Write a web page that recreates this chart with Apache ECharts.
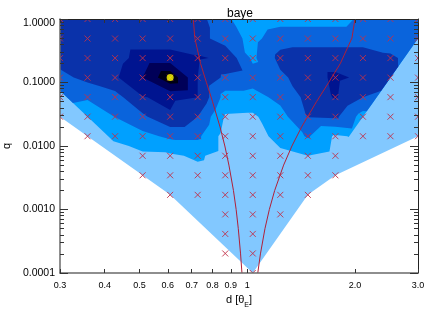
<!DOCTYPE html>
<html><head><meta charset="utf-8">
<script src="https://cdn.jsdelivr.net/npm/echarts@6/dist/echarts.min.js"></script>
<style>html,body{margin:0;padding:0;background:#fff}#c{width:436px;height:312px}</style>
</head><body><div id="c"></div>
<script>
// sample grid (d in theta_E, q)
const gridD = [0.3000,0.3581,0.4275,0.5104,0.6093,0.7273,0.8683,1.0365,1.2374,1.4772,1.7634,2.1051,2.5130,3.0000];
const gridQ = [1.0000,0.4924,0.2424,0.1194,0.05878,0.02894,0.01425,0.007017,0.003455,0.001701,0.0008377,0.0004125,0.0002031,0.0001000];
// contour value at each sample (rows = gridQ, cols = gridD)
const zRow0  = [3.5,3.5,3.5,3.5,3.5,3.4,2.2,1.3,1.6,1.6,1.6,2.2,2.4,2.4];
const zRow1  = [3.5,3.5,3.5,3.5,3.5,3.4,2.5,1.7,2.6,2.6,2.6,2.6,2.5,2.4];
const zRow2  = [3.4,3.5,3.6,4.4,4.4,4.1,3.85,1.8,3.3,3.5,3.5,3.5,3.15,2.6];
const zRow3  = [2.7,3.3,3.85,5.0,6.8,4.0,2.8,2.5,2.8,3.5,4.2,3.8,3.2,2.6];
const zRow4  = [2.3,2.1,2.6,3.95,4.23,4.0,1.6,1.6,2.3,3.25,4.1,3.0,2.6,2.3];
const zRow5  = [1.4,1.4,2.02,2.8,3.88,3.0,0.9,0.85,1.6,3.05,3.2,1.6,1.7,1.7];
const zRow6  = [1.0,0.8,1.2,1.7,2.2,2.2,0.6,0.6,1.3,2.1,0.85,1.2,1.05,0.9];
const zRow7  = [0.8,0.6,0.5,0.8,0.85,1.15,0.6,0.6,0.8,1.0,0.7,0.7,0.6,0.6];
const zRow8  = [0.5,0.5,0.5,0.6,0.6,0.65,0.5,0.5,0.5,0.5,0.5,0.5,0.5,0.5];
const zRow9  = [0.5,0.5,0.5,0.5,0.5,0.5,0.5,0.5,0.5,0.5,0.5,0.5,0.5,0.5];
const zRow10 = [0.5,0.5,0.5,0.5,0.5,0.5,0.5,0.5,0.5,0.5,0.5,0.5,0.5,0.5];
const zRow11 = [0.5,0.5,0.5,0.5,0.5,0.5,0.5,0.5,0.5,0.5,0.5,0.5,0.5,0.5];
const zRow12 = [0.5,0.5,0.5,0.5,0.5,0.5,0.5,0.5,0.5,0.5,0.5,0.5,0.5,0.5];
const zRow13 = [0.5,0.5,0.5,0.5,0.5,0.5,0.5,0.5,0.5,0.5,0.5,0.5,0.5,0.5];
const zRows = [zRow0,zRow1,zRow2,zRow3,zRow4,zRow5,zRow6,zRow7,zRow8,zRow9,zRow10,zRow11,zRow12,zRow13];
// sampled points (x markers): first and last column index for each row
const markerFirst = [0,0,0,0,0,0,1,3,3,4,6,6,6,7];
const markerLast  = [13,13,13,13,13,13,13,10,10,9,8,7,7,7];
// boundary of the sampled region
const hullD = [0.3000,3.0000,3.0000,1.7634,1.4772,1.0365,0.6093,0.3000];
const hullQ = [1.0000,1.0000,0.01425,0.003455,0.001701,0.0001000,0.001701,0.02894];
// caustic-topology boundary curves
const closeQ = [1.0,0.5,0.2,0.1,0.05,0.02,0.01,0.005,0.002,0.001,0.0005,0.0002,0.0001];
const closeD = [0.7071,0.7141,0.7407,0.7694,0.8002,0.8397,0.8662,0.8891,0.9153,0.9314,0.9444,0.9583,0.9668];
const wideQ  = [1.0,0.5,0.2,0.1,0.05,0.02,0.01,0.005,0.002,0.001,0.0005,0.0002,0.0001];
const wideD  = [2.000,1.9615,1.821,1.689,1.5621,1.4195,1.3334,1.2640,1.1936,1.1531,1.1211,1.0889,1.0704];
// best fit
const peakD = [0.6093], peakQ = [0.1194];
// contour fill colours, lowest to highest level
const levelColors = ['#82c8ff','#00a0ff','#0a64dc','#0a32aa','#001490','#000058','#000014'];
// axis ticks
const xTickVals = [0.3,0.4,0.5,0.6,0.7,0.8,0.9,1,2,3];
const xTickLabels = ['0.3','0.4','0.5','0.6','0.7','0.8','0.9','1','2.0','3.0'];
const yTickVals = [0.0001,0.001,0.01,0.1,1];
const yTickLabels = ['0.0001','0.0010','0.0100','0.1000','1.0000'];
const yMinorVals = [0.0002,0.0003,0.0004,0.0005,0.0006,0.0007,0.0008,0.0009,0.002,0.003,0.004,0.005,0.006,0.007,0.008,0.009,0.02,0.03,0.04,0.05,0.06,0.07,0.08,0.09,0.2,0.3,0.4,0.5,0.6,0.7,0.8,0.9];

const L10 = Math.log10;
const chart = echarts.init(document.getElementById('c'), null, {renderer:'canvas'});

function clipTri(tri, level){
  const out=[];
  for(let i=0;i<tri.length;i++){
    const a=tri[i], b=tri[(i+1)%tri.length];
    const ain=a[2]>=level, bin=b[2]>=level;
    if(ain) out.push([a[0],a[1]]);
    if(ain!==bin){const t=(level-a[2])/(b[2]-a[2]); out.push([a[0]+t*(b[0]-a[0]), a[1]+t*(b[1]-a[1])]);}
  }
  return out;
}
function clipConvex(poly, hull){
  let area=0; const n=hull.length;
  for(let i=0;i<n;i++){const p=hull[i],q=hull[(i+1)%n]; area+=p[0]*q[1]-q[0]*p[1];}
  const s=area>0?1:-1;
  let out=poly;
  for(let i=0;i<n && out.length;i++){
    const A=hull[i],B=hull[(i+1)%n];
    const side=p=>s*((B[0]-A[0])*(p[1]-A[1])-(B[1]-A[1])*(p[0]-A[0]));
    const inp=out; out=[];
    for(let j=0;j<inp.length;j++){
      const P=inp[j],Q=inp[(j+1)%inp.length];
      const sp=side(P), sq=side(Q);
      if(sp>=0) out.push(P);
      if((sp>=0)!==(sq>=0)){const t=sp/(sp-sq); out.push([P[0]+t*(Q[0]-P[0]),P[1]+t*(Q[1]-P[1])]);}
    }
  }
  return out;
}

function renderContours(params, api){
  const pts = zRows.map((row,r)=>row.map((z,c)=>{const p=api.coord([L10(gridD[c]),L10(gridQ[r])]); return [p[0],p[1],z];}));
  const hullPx = hullD.map((d,i)=>api.coord([L10(d),L10(hullQ[i])]));
  const children=[{type:'polygon', shape:{points:hullPx}, style:{fill:levelColors[0]}}];
  for(let L=1; L<levelColors.length; L++){
    let path='';
    for(let r=0;r<zRows.length-1;r++){
      for(let c=0;c<gridD.length-1;c++){
        const a=pts[r][c], b=pts[r][c+1], d=pts[r+1][c+1], e=pts[r+1][c];
        for(const tri of [[a,b,d],[a,d,e]]){
          if(Math.max(tri[0][2],tri[1][2],tri[2][2])<L) continue;
          let poly=clipTri(tri,L); if(poly.length<3) continue;
          poly=clipConvex(poly,hullPx); if(poly.length<3) continue;
          path+='M'+poly.map(p=>p[0].toFixed(2)+' '+p[1].toFixed(2)).join('L')+'Z';
        }
      }
    }
    if(path) children.push({type:'path', shape:{pathData:path}, style:{fill:levelColors[L]}});
  }
  return {type:'group', children};
}

const markerData=[];
for(let r=0;r<gridQ.length;r++) for(let c=markerFirst[r];c<=markerLast[r];c++) markerData.push([L10(gridD[c]),L10(gridQ[r])]);

const xLab = v => { let best=0; xTickVals.forEach((t,i)=>{ if(Math.abs(L10(t)-v)<Math.abs(L10(xTickVals[best])-v)) best=i; }); return xTickLabels[best]; };
const yLab = v => { let best=0; yTickVals.forEach((t,i)=>{ if(Math.abs(L10(t)-v)<Math.abs(L10(yTickVals[best])-v)) best=i; }); return best===yTickVals.length-1 ? '{top|'+yTickLabels[best]+'}' : yTickLabels[best]; };

const xMin=L10(xTickVals[0]), xMax=L10(xTickVals[xTickVals.length-1]);
const yMin=L10(yTickVals[0]), yMax=L10(yTickVals[yTickVals.length-1]);
const font='Liberation Sans';
const xBase = {type:'value', min:xMin, max:xMax, z:10, splitLine:{show:false}, axisPointer:{show:false}};
const yBase = {type:'value', min:yMin, max:yMax, z:10, splitLine:{show:false}, axisPointer:{show:false}};

const option = {
  animation:false,
  backgroundColor:'#fff',
  title:{text:'baye', left:222, top:3, textStyle:{fontFamily:font, fontSize:12, fontWeight:'normal', color:'#000'}},
  grid:{left:60, right:18, top:19, bottom:39, outerBoundsMode:'none', containLabel:false},
  xAxis:[
    Object.assign({}, xBase, {position:'bottom', name:'d [θ{sub|E}]', nameLocation:'middle', nameGap:19,
      nameTextStyle:{fontFamily:font, fontSize:11, color:'#000', rich:{sub:{fontFamily:font, fontSize:7, color:'#000', verticalAlign:'bottom', lineHeight:16}}},
      axisLine:{onZero:false, lineStyle:{color:'#6a6a6a', width:1.5}},
      axisTick:{inside:true, length:4, customValues:xTickVals.map(L10), lineStyle:{color:'#333'}},
      axisLabel:{customValues:xTickVals.map(L10), formatter:xLab, fontFamily:font, fontSize:9, color:'#000', margin:8, showMinLabel:true, showMaxLabel:true}}),
    Object.assign({}, xBase, {position:'top',
      axisLine:{onZero:false, lineStyle:{color:'#222', width:1}},
      axisTick:{inside:true, length:4, customValues:xTickVals.map(L10), lineStyle:{color:'#333'}},
      axisLabel:{show:false}})
  ],
  yAxis:[
    Object.assign({}, yBase, {position:'left', name:'q', nameLocation:'middle', nameGap:42,
      nameTextStyle:{fontFamily:font, fontSize:11, color:'#000'},
      axisLine:{onZero:false, lineStyle:{color:'#6a6a6a', width:1.5}},
      axisTick:{inside:true, length:8, customValues:yTickVals.map(L10), lineStyle:{color:'#333'}},
      axisLabel:{customValues:yTickVals.map(L10), formatter:yLab, fontFamily:font, fontSize:10.5, color:'#000', margin:5,
        rich:{top:{fontFamily:font, fontSize:10.5, color:'#000', padding:[8,0,0,0]}}}}),
    Object.assign({}, yBase, {position:'left', axisLine:{show:false, onZero:false},
      axisTick:{inside:true, length:4, customValues:yMinorVals.map(L10), lineStyle:{color:'#333'}}, axisLabel:{show:false}}),
    Object.assign({}, yBase, {position:'right', axisLine:{onZero:false, lineStyle:{color:'#222', width:1}},
      axisTick:{inside:true, length:8, customValues:yTickVals.map(L10), lineStyle:{color:'#333'}}, axisLabel:{show:false}}),
    Object.assign({}, yBase, {position:'right', axisLine:{show:false, onZero:false},
      axisTick:{inside:true, length:4, customValues:yMinorVals.map(L10), lineStyle:{color:'#333'}}, axisLabel:{show:false}})
  ],
  series:[
    {type:'custom', name:'contours', xAxisIndex:0, yAxisIndex:0, clip:true, z:1, silent:true,
      data:[[L10(gridD[0]),L10(gridQ[0])]], renderItem:renderContours},
    {type:'line', name:'close', xAxisIndex:0, yAxisIndex:0, z:3, clip:true, showSymbol:false, silent:true,
      data:closeD.map((d,i)=>[L10(d),L10(closeQ[i])]), lineStyle:{color:'#b02038', width:1}},
    {type:'line', name:'wide', xAxisIndex:0, yAxisIndex:0, z:3, clip:true, showSymbol:false, silent:true,
      data:wideD.map((d,i)=>[L10(d),L10(wideQ[i])]), lineStyle:{color:'#b02038', width:1}},
    {type:'custom', name:'samples', xAxisIndex:0, yAxisIndex:0, clip:true, z:4, silent:true, data:markerData,
      renderItem:function(params, api){
        const p=api.coord([api.value(0),api.value(1)]); const s=3;
        const st={stroke:'#c0304a', lineWidth:0.9};
        return {type:'group', children:[
          {type:'line', shape:{x1:p[0]-s,y1:p[1]-s,x2:p[0]+s,y2:p[1]+s}, style:st},
          {type:'line', shape:{x1:p[0]-s,y1:p[1]+s,x2:p[0]+s,y2:p[1]-s}, style:st}]};
      }},
    {type:'scatter', name:'best', xAxisIndex:0, yAxisIndex:0, z:5, silent:true, symbolSize:7,
      data:peakD.map((d,i)=>[L10(d),L10(peakQ[i])]), itemStyle:{color:'#ffff00', borderWidth:0}}
  ]
};
chart.setOption(option);
</script></body></html>
